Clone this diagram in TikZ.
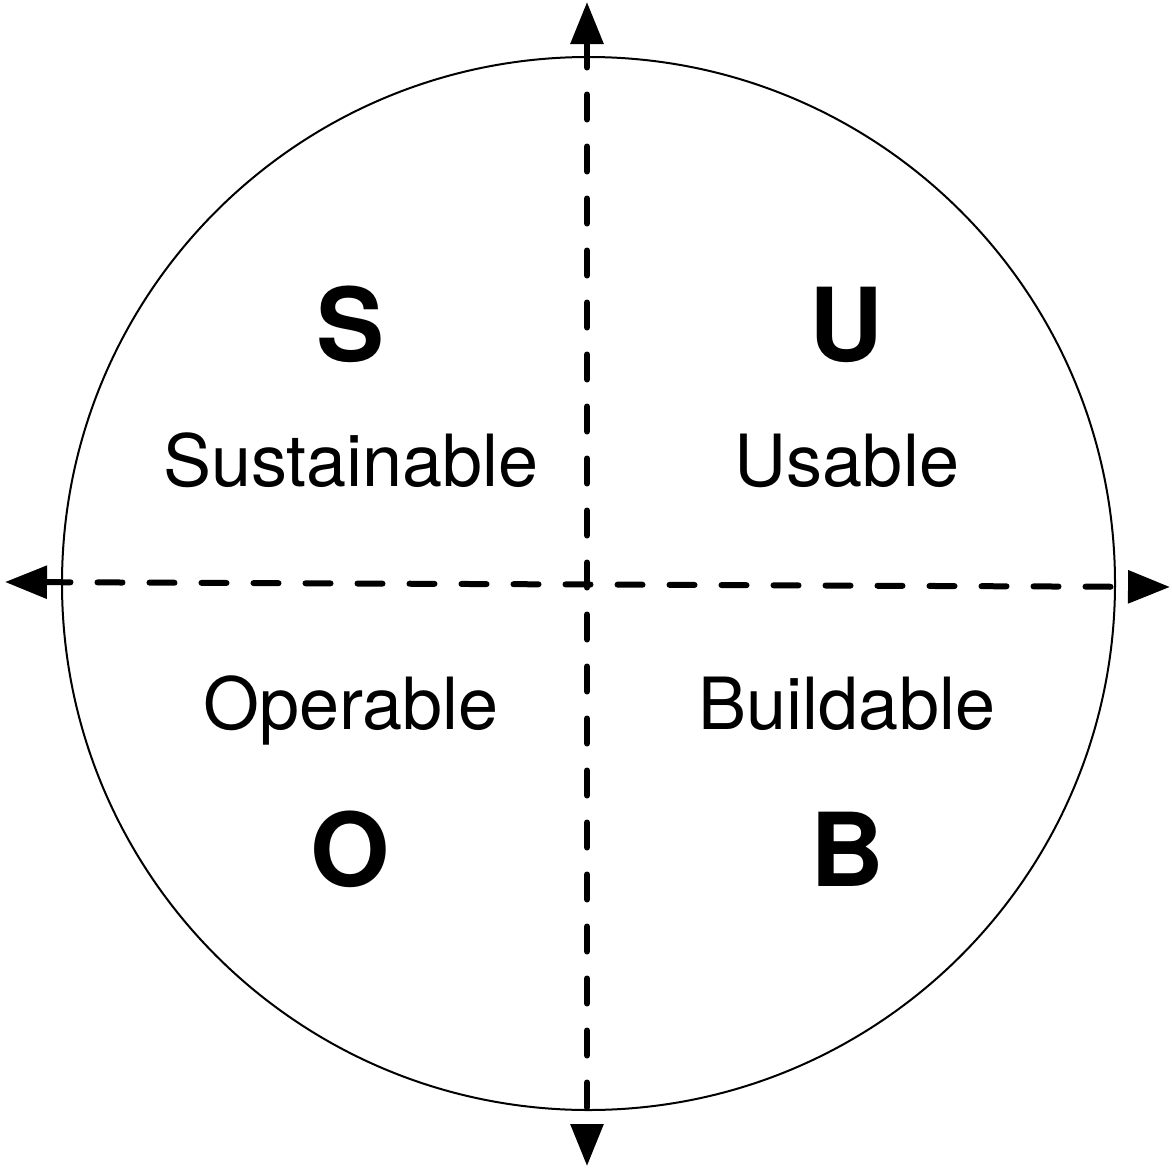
\documentclass[tikz,border=0pt]{standalone}
\usepackage{fontspec}
\setmainfont{TeX Gyre Heros}
\usepackage{tikz}
\usetikzlibrary{arrows.meta}

\begin{document}
\begin{tikzpicture}[
  x=0.5pt, y=-0.5pt,
  ring/.style={draw, circle, line width=1pt, minimum size=526.5pt, inner sep=0pt},
  letter/.style={font=\fontsize{51}{60}\selectfont\bfseries, inner sep=0pt, anchor=base},
  word/.style={font=\fontsize{36}{42}\selectfont, inner sep=0pt, anchor=base},
  axis/.style={line width=3pt, line cap=round, dash pattern=on 12.5pt off 13.5pt,
    {Triangle[length=21pt, width=16pt]}-{Triangle[length=21pt, width=16pt]}}
]
  \useasboundingbox (0,0) rectangle (1172,1167);

  \node[ring] (ring) at (588.5,583.5) {};

  \coordinate (top) at (587,2);
  \coordinate (bottom) at (587,1166);
  \coordinate (left) at (5,582);
  \coordinate (right) at (1170,587);

  \draw[axis] (top) -- (bottom);
  \draw[axis] (left) -- (right);

  \node[letter] (sletter) at (351,361) {S};
  \node[letter] (uletter) at (846,361) {U};
  \node[word] (sustain) at (351,486) {Sustainable};
  \node[word] (usable) at (847,486) {Usable};
  \node[word] (operable) at (351,729) {Operable};
  \node[word] (buildable) at (847,729) {Buildable};
  \node[letter] (oletter) at (350,886) {O};
  \node[letter] (bletter) at (847,886) {B};
\end{tikzpicture}
\end{document}
